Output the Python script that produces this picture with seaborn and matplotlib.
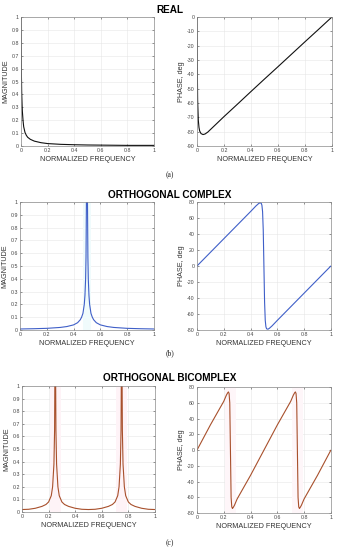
import matplotlib
matplotlib.use("Agg")
import matplotlib.pyplot as plt
import seaborn as sns
from matplotlib.ticker import FuncFormatter

sns.set_theme(style="whitegrid")
plt.rcParams['font.family'] = ['Liberation Sans', 'DejaVu Sans']

# REAL
real_f = [0, 0.001, 0.003, 0.005, 0.008, 0.01, 0.015, 0.02, 0.03, 0.04, 0.05, 0.07,
          0.1, 0.15, 0.2, 0.3, 0.4, 0.5, 0.6, 0.7, 0.8, 0.9, 1.0]
real_mag = [1.0, 0.8, 0.55, 0.42, 0.32, 0.27, 0.2, 0.15, 0.105, 0.083, 0.068, 0.052,
            0.038, 0.026, 0.019, 0.013, 0.01, 0.008, 0.007, 0.006, 0.005, 0.005, 0.005]
real_pf = [0, 0.002, 0.005, 0.01, 0.015, 0.02, 0.03, 0.045, 0.06, 0.08, 0.1, 0.15,
           0.2, 0.3, 0.4, 0.5, 0.6, 0.7, 0.8, 0.9, 1.0]
real_phase = [0, -30, -58, -72, -77, -79.5, -81.3, -82, -81.6, -80.3, -78.5, -74,
              -69.5, -60.8, -52, -43.3, -34.7, -26, -17.3, -8.7, 0]

# ORTHOGONAL COMPLEX
cx_f = [0, 0.1, 0.2, 0.3, 0.35, 0.4, 0.43, 0.45, 0.46, 0.47, 0.48, 0.485, 0.49, 0.493,
        0.496, 0.5, 0.504, 0.507, 0.51, 0.515, 0.52, 0.53, 0.54, 0.55, 0.57, 0.6, 0.65,
        0.7, 0.8, 0.9, 1.0]
cx_mag = [0.008, 0.01, 0.013, 0.02, 0.027, 0.04, 0.057, 0.08, 0.1, 0.13, 0.2, 0.27, 0.4,
          0.57, 1.0, 1.6, 1.0, 0.57, 0.4, 0.27, 0.2, 0.13, 0.1, 0.08, 0.057, 0.04, 0.027,
          0.02, 0.013, 0.01, 0.008]
cx_pf = [0, 0.1, 0.2, 0.3, 0.4, 0.44, 0.46, 0.47, 0.48, 0.485, 0.49, 0.495, 0.5, 0.505,
         0.51, 0.515, 0.52, 0.53, 0.54, 0.56, 0.6, 0.7, 0.8, 0.9, 1.0]
cx_phase = [0, 17, 34, 51, 68, 75, 78, 79, 78.5, 76, 68, 45, 0, -45, -68, -76, -78.5,
            -79, -78, -75, -68, -51, -34, -17, 0]
cx_band = [(0.47, 0.53)]

# ORTHOGONAL BICOMPLEX
bc_f = [0, 0.05, 0.1, 0.15, 0.18, 0.2, 0.22, 0.23, 0.24, 0.245, 0.25, 0.255, 0.26, 0.27,
        0.28, 0.3, 0.32, 0.35, 0.4, 0.45, 0.5, 0.55, 0.6, 0.65, 0.68, 0.7, 0.72, 0.73,
        0.74, 0.745, 0.75, 0.755, 0.76, 0.77, 0.78, 0.8, 0.82, 0.85, 0.9, 0.95, 1.0]
bc_mag = [0.02, 0.022, 0.03, 0.045, 0.06, 0.08, 0.13, 0.2, 0.38, 0.65, 1.6, 0.65, 0.38,
          0.2, 0.13, 0.08, 0.06, 0.045, 0.03, 0.022, 0.02, 0.022, 0.03, 0.045, 0.06, 0.08,
          0.13, 0.2, 0.38, 0.65, 1.6, 0.65, 0.38, 0.2, 0.13, 0.08, 0.06, 0.045, 0.03,
          0.022, 0.02]
bc_pf = [0, 0.05, 0.1, 0.15, 0.2, 0.22, 0.23, 0.235, 0.24, 0.245, 0.25, 0.255, 0.26,
         0.265, 0.27, 0.28, 0.3, 0.35, 0.4, 0.45, 0.5, 0.55, 0.6, 0.65, 0.7, 0.72, 0.73,
         0.735, 0.74, 0.745, 0.75, 0.755, 0.76, 0.765, 0.77, 0.78, 0.8, 0.85, 0.9, 0.95, 1.0]
bc_phase = [0, 16, 32, 47, 62, 70, 73, 74, 72, 60, 0, -60, -72, -74, -73, -70, -62, -47,
            -32, -16, 0, 16, 32, 47, 62, 70, 73, 74, 72, 60, 0, -60, -72, -74, -73, -70,
            -62, -47, -32, -16, 0]
bc_band = [(0.21, 0.29), (0.71, 0.79)]

fig = plt.figure(figsize=(3.39, 5.50), dpi=100)

fmt = FuncFormatter(lambda v, p: "%g" % round(v, 2))
tick_fs = 3.8
lab_fs = 5.2


def style(ax, yticks, ylabel):
    ax.set_xlim(0, 1)
    ax.set_ylim(yticks[0], yticks[-1])
    ax.set_xticks([0, 0.2, 0.4, 0.6, 0.8, 1.0])
    ax.set_yticks(yticks)
    ax.xaxis.set_major_formatter(fmt)
    ax.yaxis.set_major_formatter(fmt)
    ax.tick_params(labelsize=tick_fs, length=1.5, width=0.4, direction="in", pad=1.5,
                   colors="#444444", bottom=True, left=True, top=True, right=True)
    ax.grid(True, color="#e6e6e6", linewidth=0.4)
    for s in ax.spines.values():
        s.set_color("#8a8a8a")
        s.set_linewidth(0.5)
    ax.set_xlabel("NORMALIZED FREQUENCY", fontsize=lab_fs, labelpad=2, color="#333333")
    ax.set_ylabel(ylabel, fontsize=lab_fs, labelpad=1.5, color="#333333")


mag_ticks = [0, 0.1, 0.2, 0.3, 0.4, 0.5, 0.6, 0.7, 0.8, 0.9, 1.0]
ph_ticks = [-80, -60, -40, -20, 0, 20, 40, 60, 80]
real_ticks = [-90, -80, -70, -60, -50, -40, -30, -20, -10, 0]

# (a) REAL
ax = fig.add_axes([0.062, 0.7345, 0.392, 0.2345])
sns.lineplot(x=real_f, y=real_mag, ax=ax, color="#111111", lw=0.8)
style(ax, mag_ticks, "MAGNITUDE")
ax = fig.add_axes([0.581, 0.7345, 0.398, 0.2345])
sns.lineplot(x=real_pf, y=real_phase, ax=ax, color="#111111", lw=0.8)
style(ax, real_ticks, "PHASE, deg")

# (b) ORTHOGONAL COMPLEX
blue = "#3f5fc8"
ax = fig.add_axes([0.059, 0.4, 0.395, 0.2327])
for a, b in cx_band:
    ax.axvspan(a, b, color="#f0fbfc", lw=0)
sns.lineplot(x=cx_f, y=cx_mag, ax=ax, color=blue, lw=0.8)
style(ax, mag_ticks, "MAGNITUDE")
ax = fig.add_axes([0.581, 0.4, 0.395, 0.2327])
sns.lineplot(x=cx_pf, y=cx_phase, ax=ax, color=blue, lw=0.8)
style(ax, ph_ticks, "PHASE, deg")

# (c) ORTHOGONAL BICOMPLEX
brown = "#a8502c"
ax = fig.add_axes([0.065, 0.069, 0.392, 0.229])
for a, b in bc_band:
    ax.axvspan(a, b, color="#fef3f7", lw=0)
sns.lineplot(x=bc_f, y=bc_mag, ax=ax, color=brown, lw=0.8)
style(ax, mag_ticks, "MAGNITUDE")
ax = fig.add_axes([0.581, 0.067, 0.395, 0.229])
for a, b in bc_band:
    ax.axvspan(a, b, color="#fef6f9", lw=0)
sns.lineplot(x=bc_pf, y=bc_phase, ax=ax, color=brown, lw=0.8)
style(ax, ph_ticks, "PHASE, deg")

# titles and captions
for y, t in [(0.982, "REAL"), (0.646, "ORTHOGONAL COMPLEX"), (0.312, "ORTHOGONAL BICOMPLEX")]:
    fig.text(0.5, y, t, ha="center", va="center", fontsize=7.2, fontweight="bold",
             color="black")
for y, t in [(0.682, "(a)"), (0.358, "(b)"), (0.013, "(c)")]:
    fig.text(0.5, y, t, ha="center", va="center", fontsize=5.5,
             family=["Liberation Serif", "DejaVu Serif"], color="#222222")

fig.savefig("out.png", dpi=100, facecolor="white")
